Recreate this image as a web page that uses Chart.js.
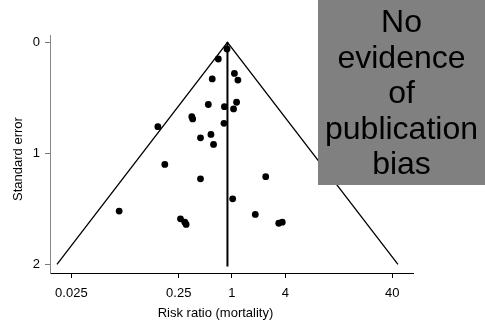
<!DOCTYPE html>
<html>
<head>
<meta charset="utf-8">
<script src="https://cdn.jsdelivr.net/npm/chart.js@4"></script>
<style>
    html, body { margin: 0; padding: 0; background: #fff; }
</style>
</head>
<body>
<canvas id="funnelChart" width="485" height="320"></canvas>
<script>
// study estimates: log risk ratio and its standard error
const logRiskRatio = [-0.11, -0.31, -0.45, 0.06, 0.14, -0.54, -0.17, 0.11, 0.04, -0.92, -0.90, -1.70, -0.18, -0.72,
    -0.48, -0.42, -1.54, -0.72, 0.78, 0.02, -2.59, -1.18, -1.08, -1.05, 0.54, 1.08, 1.16];
const standardError = [0.06, 0.15, 0.33, 0.28, 0.34, 0.56, 0.58, 0.54, 0.60, 0.67, 0.69, 0.76, 0.73, 0.86,
    0.83, 0.92, 1.10, 1.23, 1.21, 1.41, 1.52, 1.59, 1.62, 1.64, 1.55, 1.63, 1.62];

const pooledLogRR = -0.10;
const funnelMaxSE = 2;
const verticalMaxSE = 2.02;

const xTickValues = [-3.689, -1.22, 0, 1.23, 3.689];
const xTickLabels = ['0.025', '0.25', '1', '4', '40'];
const yTickValues = [0, 1, 2];

const boxLines = ['No', 'evidence', 'of', 'publication', 'bias'];
const xTitle = 'Risk ratio (mortality)';
const yTitle = 'Standard error';

const FONT = "'Liberation Sans', Arial, sans-serif";

const points = logRiskRatio.map((x, i) => ({ x: x, y: standardError[i] }));
const funnel = [
    { x: pooledLogRR - 1.96 * funnelMaxSE, y: funnelMaxSE },
    { x: pooledLogRR, y: 0 },
    { x: pooledLogRR + 1.96 * funnelMaxSE, y: funnelMaxSE }
];
const pooledLine = [
    { x: pooledLogRR, y: 0 },
    { x: pooledLogRR, y: verticalMaxSE }
];

const overlayPlugin = {
    id: 'overlay',
    afterDraw(chart) {
        const ctx = chart.ctx;
        ctx.save();
        ctx.fillStyle = '#000';
        ctx.font = '13px ' + FONT;
        ctx.textAlign = 'center';
        ctx.textBaseline = 'middle';
        ctx.fillText(xTitle, 215.5, 313);

        ctx.translate(18, 159);
        ctx.rotate(-Math.PI / 2);
        ctx.fillText(yTitle, 0, 0);
        ctx.restore();

        // note box
        ctx.save();
        ctx.fillStyle = '#808080';
        ctx.fillRect(318, 0, 167, 185);
        ctx.fillStyle = '#000';
        ctx.font = '32px ' + FONT;
        ctx.textAlign = 'center';
        ctx.textBaseline = 'alphabetic';
        boxLines.forEach((line, i) => {
            ctx.fillText(line, 401.5, 32 + i * 35.5);
        });
        ctx.restore();
    }
};

new Chart(document.getElementById('funnelChart'), {
    type: 'scatter',
    data: {
        datasets: [
            {
                type: 'line',
                data: funnel,
                borderColor: '#000',
                borderWidth: 1.3,
                pointRadius: 0,
                fill: false
            },
            {
                type: 'line',
                data: pooledLine,
                borderColor: '#000',
                borderWidth: 2,
                pointRadius: 0,
                fill: false
            },
            {
                data: points,
                backgroundColor: '#000',
                borderWidth: 0,
                pointRadius: 3.4
            }
        ]
    },
    options: {
        responsive: false,
        animation: false,
        layout: { padding: { top: 35, right: 72, left: 0, bottom: 0 } },
        plugins: {
            legend: { display: false },
            tooltip: { enabled: false }
        },
        scales: {
            x: {
                type: 'linear',
                min: -4.18,
                max: 4.166,
                afterBuildTicks: scale => { scale.ticks = xTickValues.map(v => ({ value: v })); },
                afterFit: scale => { scale.height = 47; },
                ticks: {
                    callback: (v, i) => xTickLabels[i],
                    autoSkip: false,
                    maxRotation: 0,
                    color: '#000',
                    padding: 8,
                    font: { family: FONT, size: 13 }
                },
                grid: { drawOnChartArea: false, tickLength: 5, color: '#000' },
                border: { color: '#000', width: 1 }
            },
            y: {
                type: 'linear',
                reverse: true,
                min: -0.066,
                max: 2.078,
                afterBuildTicks: scale => { scale.ticks = yTickValues.map(v => ({ value: v })); },
                afterFit: scale => { scale.width = 50; },
                ticks: {
                    callback: v => String(v),
                    color: '#000',
                    padding: 5,
                    font: { family: FONT, size: 13 }
                },
                grid: { drawOnChartArea: false, tickLength: 5, color: '#777' },
                border: { color: '#888', width: 1 }
            }
        }
    },
    plugins: [overlayPlugin]
});
</script>
</body>
</html>
